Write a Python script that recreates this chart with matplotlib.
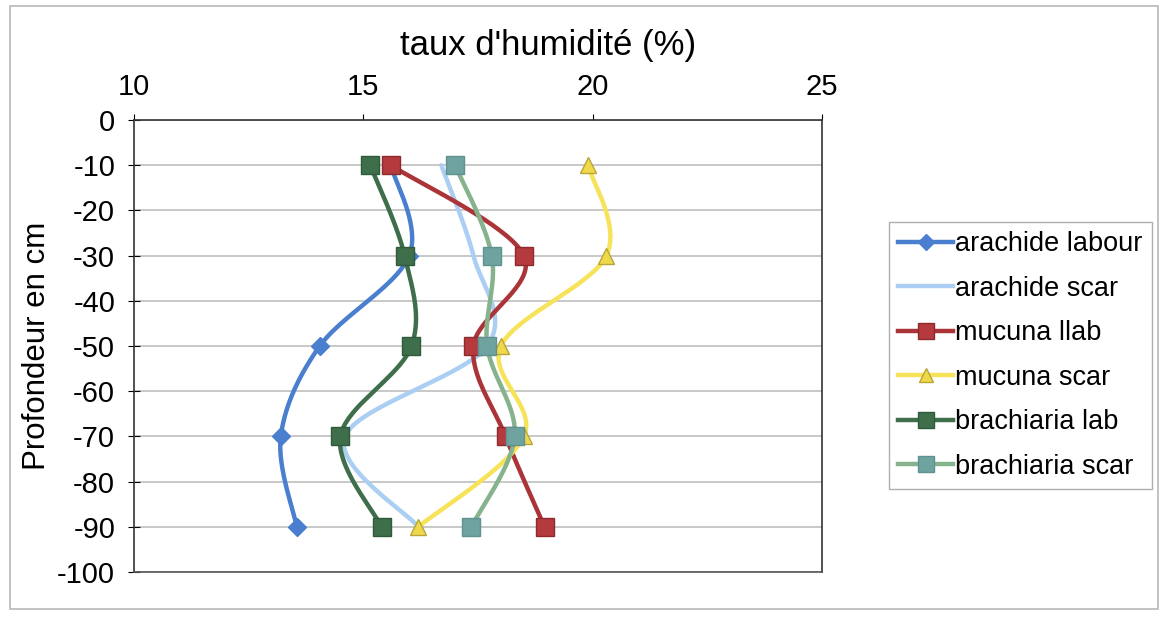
import numpy as np
import matplotlib
matplotlib.use("Agg")
import matplotlib.pyplot as plt
from matplotlib.patches import Rectangle

plt.rcParams['font.family'] = ['Liberation Sans', 'DejaVu Sans']
plt.rcParams['axes.unicode_minus'] = False

depths = [-10, -30, -50, -70, -90]
arachide_labour = [15.6, 16.0, 14.05, 13.2, 13.55]
arachide_scar = [16.7, 17.4, 17.7, 14.6, 16.2]
mucuna_llab = [15.6, 18.5, 17.4, 18.1, 18.95]
mucuna_scar = [19.9, 20.3, 18.0, 18.5, 16.2]
brachiaria_lab = [15.15, 15.9, 16.05, 14.5, 15.4]
brachiaria_scar = [17.0, 17.8, 17.7, 18.3, 17.35]

series_names = ["arachide labour", "arachide scar", "mucuna llab",
                "mucuna scar", "brachiaria lab", "brachiaria scar"]

x_ticks = [10, 15, 20, 25]
y_ticks = list(range(0, -101, -10))


def smooth(xs, ys, n=40):
    """Catmull-Rom smoothing (Excel-like smoothed line) through the points."""
    P = np.column_stack([xs, ys]).astype(float)
    sx, sy = 45.9, 4.55
    P = P * np.array([sx, sy])
    pts = []
    m = len(P)
    for i in range(m - 1):
        p0 = P[i - 1] if i > 0 else P[i]
        p1 = P[i]
        p2 = P[i + 1]
        p3 = P[i + 2] if i + 2 < m else P[i + 1]
        c1 = p1 + (p2 - p0) / 6.0
        c2 = p2 - (p3 - p1) / 6.0
        t = np.linspace(0, 1, n)[:, None]
        seg = ((1 - t) ** 3) * p1 + 3 * ((1 - t) ** 2) * t * c1 + 3 * (1 - t) * t ** 2 * c2 + t ** 3 * p2
        pts.append(seg if i == 0 else seg[1:])
    pts = np.vstack(pts) / np.array([sx, sy])
    return pts[:, 0], pts[:, 1]


fig = plt.figure(figsize=(11.65, 6.23), dpi=100)
fig.patch.set_facecolor("white")
fig.patches.append(Rectangle((10 / 1165, 1 - 609 / 623), 1148 / 1165, 603 / 623,
                             transform=fig.transFigure, fill=False,
                             edgecolor="#b8b8b8", linewidth=1.2))

ax = fig.add_axes([134 / 1165, 1 - 572 / 623, (822 - 134) / 1165, (572 - 120) / 623])

styles = [
    dict(data=arachide_labour, color="#4a7fd0", marker="D", ms=9, mfc="#4a7fd0", mec="#4a7fd0"),
    dict(data=arachide_scar, color="#aacff2", marker=None, ms=0, mfc="none", mec="none"),
    dict(data=mucuna_llab, color="#ab3438", marker="s", ms=13, mfc="#b53a3d", mec="#8e2a2e"),
    dict(data=mucuna_scar, color="#f7e35a", marker="^", ms=12, mfc="#efd94a", mec="#b8a63a"),
    dict(data=brachiaria_lab, color="#3f6e4b", marker="s", ms=13, mfc="#3f6e4b", mec="#2f5a3b"),
    dict(data=brachiaria_scar, color="#86b38e", marker="s", ms=13, mfc="#6fa3a0", mec="#5f9290"),
]

handles = []
for name, st in zip(series_names, styles):
    sx_, sy_ = smooth(st["data"], depths)
    ax.plot(sx_, sy_, color=st["color"], linewidth=3.2, solid_capstyle="round", zorder=3)
    if st["marker"]:
        ax.plot(st["data"], depths, linestyle="none", marker=st["marker"], ms=st["ms"],
                mfc=st["mfc"], mec=st["mec"], mew=1.0, zorder=4)
    h, = ax.plot([], [], color=st["color"], linewidth=3.2,
                 marker=st["marker"] if st["marker"] else None, ms=st["ms"] * 0.85,
                 mfc=st["mfc"], mec=st["mec"])
    handles.append(h)

ax.set_xlim(10, 25)
ax.set_ylim(-100, 0)
ax.set_xticks(x_ticks)
ax.set_yticks(y_ticks)
ax.xaxis.tick_top()
ax.xaxis.set_label_position("top")
fig.text(548 / 1165, 1 - 45 / 623, "taux d'humidité (%)", fontsize=25,
         ha="center", va="center")
ax.set_ylabel("Profondeur en cm", fontsize=22.5, labelpad=4)
ax.tick_params(axis="x", labelsize=21, direction="out", length=4, pad=10, top=True, bottom=False)
ax.tick_params(axis="y", labelsize=21, direction="inout", length=9, pad=9)
ax.grid(axis="y", color="#c4c4c4", linewidth=1.3)
ax.set_axisbelow(True)
for sp in ax.spines.values():
    sp.set_color("#333333")
    sp.set_linewidth(1.2)
ax.spines["bottom"].set_color("#555555")

leg = fig.legend(handles, series_names, loc="upper left",
                 bbox_to_anchor=(889 / 1165, 1 - 222 / 623),
                 fontsize=19.5, frameon=True, fancybox=False, edgecolor="#9a9a9a",
                 handlelength=2.0, handletextpad=0.1, labelspacing=0.68,
                 borderpad=0.35, borderaxespad=0)
leg.get_frame().set_linewidth(1.0)

fig.savefig("out.png", dpi=100, facecolor="white")
